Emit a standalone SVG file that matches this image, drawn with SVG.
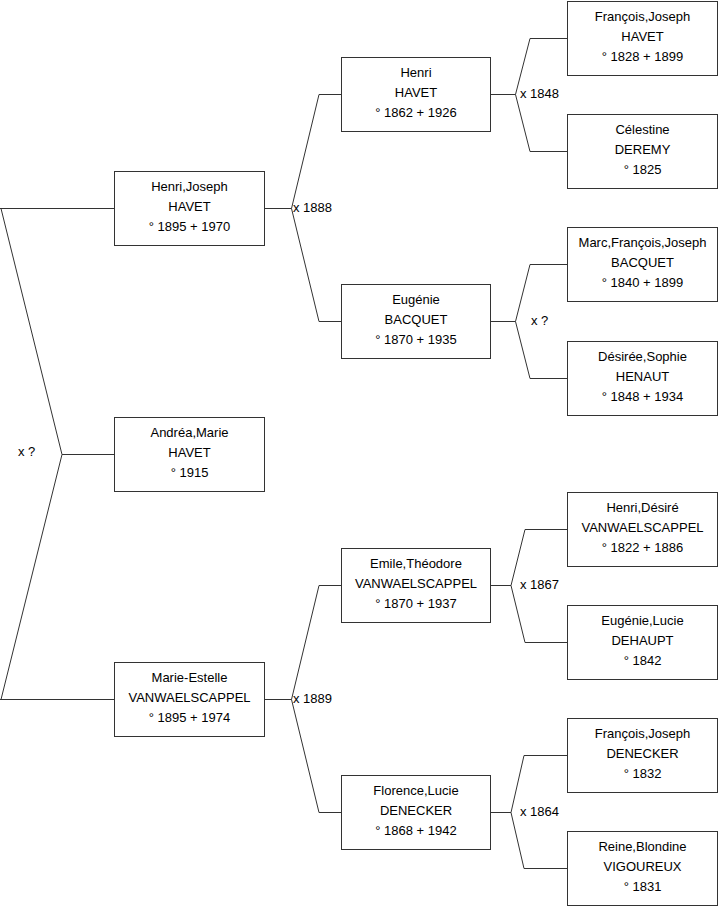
<svg xmlns="http://www.w3.org/2000/svg" width="719" height="908" viewBox="0 0 719 908">
<style>
.box rect{fill:#fff;stroke:#333;stroke-width:1}
.box text, .lbl{font-family:"Liberation Sans",Arial,sans-serif;font-size:13px;fill:#000}
.box text{text-anchor:middle}
#connectors path{fill:none;stroke:#333;stroke-width:1}
</style>
<rect width="719" height="908" fill="#fff"/>
<g id="connectors">
<path d="M0,208.5H114.5M1,208.5L62,454.5L1,699.5M62,454.5H114.5M0,699.5H114.5"/>
<path d="M265,208.5H291.5M341,94.5H319L291.5,208.5L319,321.5H341"/>
<path d="M265,699.5H291.5M341,585.5H319L291.5,699.5L319,812.5H341"/>
<path d="M491,94.5H515.5M567,38.5H530L515.5,94.5L530,151.5H567"/>
<path d="M491,321.5H515.5M567,264.5H530L515.5,321.5L530,378.5H567"/>
<path d="M491,585.5H511M567,529.5H525L511,585.5L525,642.5H567"/>
<path d="M491,812.5H511M567,755.5H524L511,812.5L524,868.5H567"/>
<text class="lbl" x="18" y="456">x ?</text>
<text class="lbl" x="293" y="212">x 1888</text>
<text class="lbl" x="293" y="703">x 1889</text>
<text class="lbl" x="520" y="98">x 1848</text>
<text class="lbl" x="531" y="325">x ?</text>
<text class="lbl" x="520" y="589">x 1867</text>
<text class="lbl" x="520" y="816">x 1864</text>
</g>
<g id="n-henri-joseph" class="box"><rect x="114.5" y="171.5" width="150" height="74"/><text x="189.5" y="191">Henri,Joseph</text><text x="189.5" y="211">HAVET</text><text x="189.5" y="231">° 1895 + 1970</text></g>
<g id="n-andrea" class="box"><rect x="114.5" y="417.5" width="150" height="74"/><text x="189.5" y="437">Andréa,Marie</text><text x="189.5" y="457">HAVET</text><text x="189.5" y="477">° 1915</text></g>
<g id="n-marie-estelle" class="box"><rect x="114.5" y="662.5" width="150" height="74"/><text x="189.5" y="682">Marie-Estelle</text><text x="189.5" y="702">VANWAELSCAPPEL</text><text x="189.5" y="722">° 1895 + 1974</text></g>
<g id="n-henri" class="box"><rect x="341.5" y="57.5" width="149" height="74"/><text x="416" y="77">Henri</text><text x="416" y="97">HAVET</text><text x="416" y="117">° 1862 + 1926</text></g>
<g id="n-eugenie" class="box"><rect x="341.5" y="284.5" width="149" height="74"/><text x="416" y="304">Eugénie</text><text x="416" y="324">BACQUET</text><text x="416" y="344">° 1870 + 1935</text></g>
<g id="n-emile" class="box"><rect x="341.5" y="548.5" width="149" height="74"/><text x="416" y="568">Emile,Théodore</text><text x="416" y="588">VANWAELSCAPPEL</text><text x="416" y="608">° 1870 + 1937</text></g>
<g id="n-florence" class="box"><rect x="341.5" y="775.5" width="149" height="74"/><text x="416" y="795">Florence,Lucie</text><text x="416" y="815">DENECKER</text><text x="416" y="835">° 1868 + 1942</text></g>
<g id="n-francois-havet" class="box"><rect x="567.5" y="1.5" width="150" height="74"/><text x="642.5" y="21">François,Joseph</text><text x="642.5" y="41">HAVET</text><text x="642.5" y="61">° 1828 + 1899</text></g>
<g id="n-celestine" class="box"><rect x="567.5" y="114.5" width="150" height="74"/><text x="642.5" y="134">Célestine</text><text x="642.5" y="154">DEREMY</text><text x="642.5" y="174">° 1825</text></g>
<g id="n-marc" class="box"><rect x="567.5" y="227.5" width="150" height="74"/><text x="642.5" y="247">Marc,François,Joseph</text><text x="642.5" y="267">BACQUET</text><text x="642.5" y="287">° 1840 + 1899</text></g>
<g id="n-desiree" class="box"><rect x="567.5" y="341.5" width="150" height="74"/><text x="642.5" y="361">Désirée,Sophie</text><text x="642.5" y="381">HENAUT</text><text x="642.5" y="401">° 1848 + 1934</text></g>
<g id="n-henri-desire" class="box"><rect x="567.5" y="492.5" width="150" height="74"/><text x="642.5" y="512">Henri,Désiré</text><text x="642.5" y="532">VANWAELSCAPPEL</text><text x="642.5" y="552">° 1822 + 1886</text></g>
<g id="n-eugenie-lucie" class="box"><rect x="567.5" y="605.5" width="150" height="74"/><text x="642.5" y="625">Eugénie,Lucie</text><text x="642.5" y="645">DEHAUPT</text><text x="642.5" y="665">° 1842</text></g>
<g id="n-francois-denecker" class="box"><rect x="567.5" y="718.5" width="150" height="74"/><text x="642.5" y="738">François,Joseph</text><text x="642.5" y="758">DENECKER</text><text x="642.5" y="778">° 1832</text></g>
<g id="n-reine" class="box"><rect x="567.5" y="831.5" width="150" height="74"/><text x="642.5" y="851">Reine,Blondine</text><text x="642.5" y="871">VIGOUREUX</text><text x="642.5" y="891">° 1831</text></g>
</svg>
